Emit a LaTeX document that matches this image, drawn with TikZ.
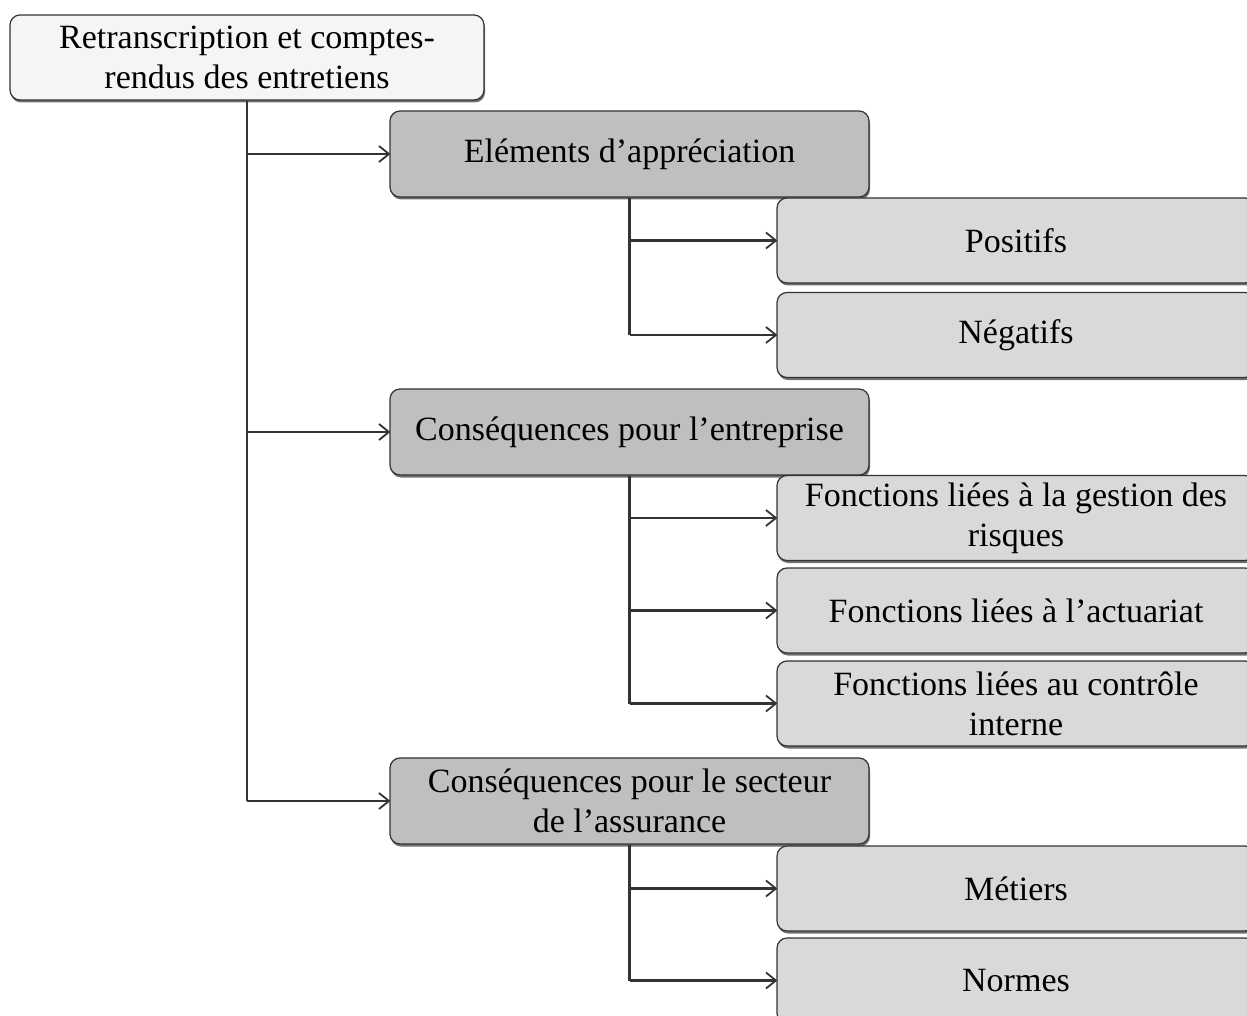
\documentclass[tikz,border=0pt]{standalone}
\usepackage{fontspec}
\setmainfont{Liberation Serif}
\usetikzlibrary{arrows.meta,shadows}
\tikzset{
  box/.style={rectangle, rounded corners=10pt, draw=black!80, line width=1.2pt,
    align=center, inner sep=0pt, font=\fontsize{34}{40}\selectfont,
    drop shadow={shadow xshift=1pt, shadow yshift=-2.5pt, opacity=0.7, fill=black!80}},
  rootbox/.style={box, fill=black!4, minimum width=474pt, minimum height=85pt},
  midbox/.style={box, fill=black!25, minimum width=479pt, minimum height=86pt},
  leafbox/.style={box, fill=black!15, minimum width=478pt, minimum height=85pt},
  link/.style={draw=black!80, line width=2.2pt},
  arr/.style={link, -{Straight Barb[length=10pt,width=16pt,line width=1.8pt]}, shorten >=-1pt},
}
\begin{document}
\begin{tikzpicture}[x=1pt,y=-1pt]
\useasboundingbox (0,0) rectangle (1247,1016);
\clip (0,0) rectangle (1247,1016);
\node[rootbox] (root) at (247,57.5) {Retranscription et comptes-\\rendus des entretiens};
\node[midbox] (el) at (629.5,154) {\raisebox{-3pt}{Eléments d’appréciation}};
\node[midbox] (ent) at (629.5,432) {\raisebox{-2pt}{Conséquences pour l’entreprise}};
\node[midbox] (sec) at (629.5,801) {Conséquences pour le secteur\\de l’assurance};
\node[leafbox] (pos) at (1016,240.5) {Positifs};
\node[leafbox] (neg) at (1016,335) {\raisebox{-2pt}{Négatifs}};
\node[leafbox] (ris) at (1016,518) {Fonctions liées à la gestion des\\risques};
\node[leafbox] (act) at (1016,610.5) {Fonctions liées à l’actuariat};
\node[leafbox] (ctl) at (1016,703.5) {Fonctions liées au contrôle\\interne};
\node[leafbox] (met) at (1016,888.5) {Métiers};
\node[leafbox] (nor) at (1016,980.5) {Normes};
% trunk from root
\draw[link] (root.south) -- (root.south |- sec.west);
\draw[arr] (root.south |- el.west) -- (el.west);
\draw[arr] (root.south |- ent.west) -- (ent.west);
\draw[arr] (root.south |- sec.west) -- (sec.west);
% sub trunks
\draw[link] (el.south) -- (el.south |- neg.west);
\draw[arr] (el.south |- pos.west) -- (pos.west);
\draw[arr] (el.south |- neg.west) -- (neg.west);
\draw[link] (ent.south) -- (ent.south |- ctl.west);
\draw[arr] (ent.south |- ris.west) -- (ris.west);
\draw[arr] (ent.south |- act.west) -- (act.west);
\draw[arr] (ent.south |- ctl.west) -- (ctl.west);
\draw[link] (sec.south) -- (sec.south |- nor.west);
\draw[arr] (sec.south |- met.west) -- (met.west);
\draw[arr] (sec.south |- nor.west) -- (nor.west);
\end{tikzpicture}
\end{document}
